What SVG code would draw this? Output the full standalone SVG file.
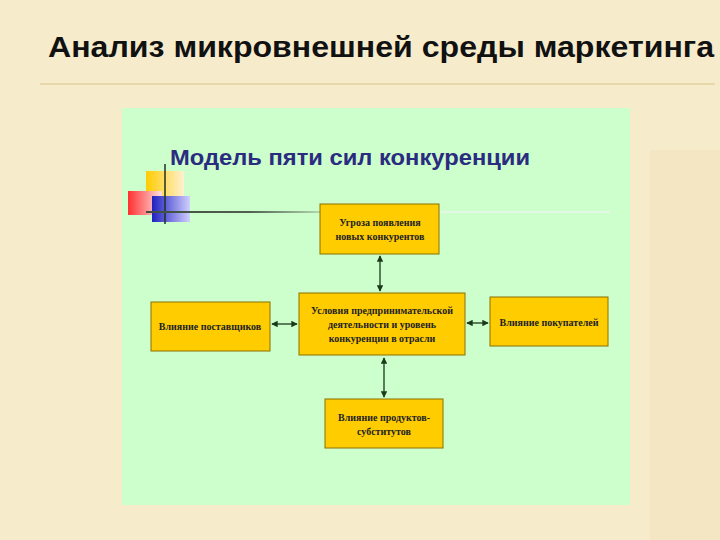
<svg xmlns="http://www.w3.org/2000/svg" width="720" height="540" viewBox="0 0 720 540">
<defs>
<style>
.box{fill:#ffcc00;stroke:#8a7000;stroke-width:1}
.t{font-family:"Liberation Serif",serif;font-weight:bold;font-size:10px;fill:#222;text-anchor:middle}
.c{stroke:#1a3a1a;stroke-width:1.3;fill:none;marker-start:url(#a);marker-end:url(#a)}
</style>
<marker id="a" viewBox="0 0 8 8" refX="7" refY="4" markerWidth="5" markerHeight="5" orient="auto-start-reverse"><path d="M0,0L8,4L0,8z" fill="#1a3a1a"/></marker>
<linearGradient id="r" x1="0" x2="1"><stop offset="0" stop-color="#ff3030"/><stop offset="1" stop-color="#ffe0e0"/></linearGradient>
<linearGradient id="y" x1="0" x2="1"><stop offset="0" stop-color="#ffcc00"/><stop offset="1" stop-color="#fff0d0"/></linearGradient>
<linearGradient id="b" x1="0" x2="1"><stop offset="0" stop-color="#2020c0"/><stop offset="1" stop-color="#d0d0ff"/></linearGradient>
<linearGradient id="l" x1="0" x2="1"><stop offset="0" stop-color="#405040"/><stop offset="0.6" stop-color="#506050"/><stop offset="1" stop-color="#b0d8b0"/></linearGradient>
</defs>
<rect width="720" height="540" fill="#f6eccb"/>
<rect x="650" y="150" width="70" height="390" fill="#f4e6c2"/>
<text x="381" y="57" font-family="Liberation Sans,sans-serif" font-size="30" font-weight="bold" fill="#111" text-anchor="middle" textLength="666" lengthAdjust="spacingAndGlyphs">Анализ микровнешней среды маркетинга</text>
<line x1="40" y1="84" x2="715" y2="84" stroke="#d9c48a" stroke-width="1"/>
<rect x="122" y="108" width="508" height="397" fill="#ccffcc"/>
<text x="350" y="165" font-family="Liberation Sans,sans-serif" font-size="22" font-weight="bold" fill="#2b2b80" text-anchor="middle" textLength="360" lengthAdjust="spacingAndGlyphs">Модель пяти сил конкуренции</text>
<g id="logo">
<rect x="146" y="171" width="38" height="30" fill="url(#y)"/>
<rect x="128" y="191" width="34" height="24" fill="url(#r)"/>
<rect x="152" y="196" width="38" height="26" fill="url(#b)"/>
<line x1="165" y1="164" x2="165" y2="224" stroke="#203020" stroke-width="1.5"/>
<rect x="146" y="211" width="174" height="2" fill="url(#l)"/>
<rect x="440" y="211" width="170" height="2" fill="#e4f7e4"/>
</g>
<g id="connectors">
<line class="c" x1="380" y1="256" x2="380" y2="291"/>
<line class="c" x1="384" y1="358" x2="384" y2="397"/>
<line class="c" x1="272" y1="324" x2="297" y2="324"/>
<line class="c" x1="467" y1="323" x2="488" y2="323"/>
</g>
<g id="n-top"><rect class="box" x="320" y="204" width="119" height="50"/><text class="t" x="380" y="226">Угроза появления</text><text class="t" x="380" y="240">новых конкурентов</text></g>
<g id="n-center"><rect class="box" x="299" y="293" width="166" height="62"/><text class="t" x="382" y="314">Условия предпринимательской</text><text class="t" x="382" y="328">деятельности и уровень</text><text class="t" x="382" y="342">конкуренции в отрасли</text></g>
<g id="n-left"><rect class="box" x="151" y="302" width="119" height="49"/><text class="t" x="210" y="330">Влияние поставщиков</text></g>
<g id="n-right"><rect class="box" x="490" y="297" width="118" height="49"/><text class="t" x="549" y="326">Влияние покупателей</text></g>
<g id="n-bottom"><rect class="box" x="325" y="399" width="118" height="49"/><text class="t" x="384" y="421">Влияние продуктов-</text><text class="t" x="384" y="435">субститутов</text></g>
</svg>
